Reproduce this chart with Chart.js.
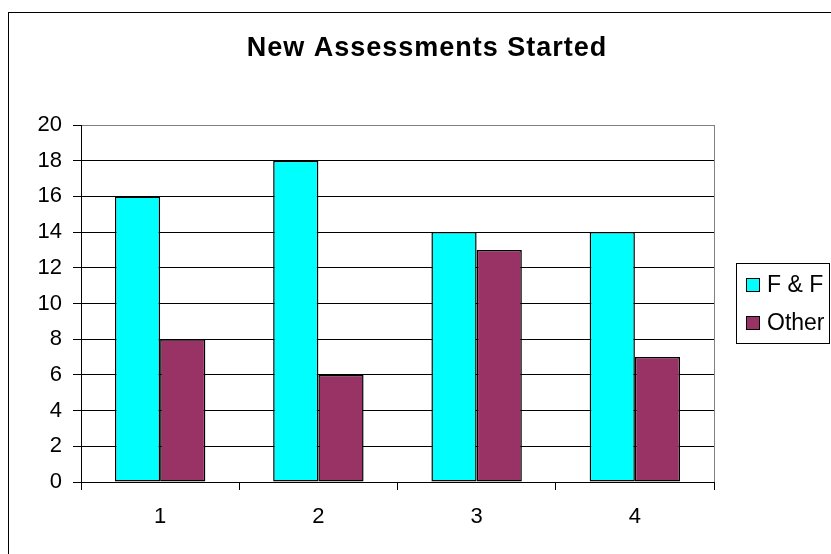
<!DOCTYPE html>
<html>
<head>
<meta charset="utf-8">
<script src="https://cdn.jsdelivr.net/npm/chart.js@4/dist/chart.umd.min.js"></script>
<style>
  html, body { margin: 0; padding: 0; background: #fff; }
  canvas { display: block; }
</style>
</head>
<body>
<canvas id="assessChart" width="831" height="554"></canvas>
<script>
// chart data
const chartTitle = "New Assessments Started";
const categories = ["1", "2", "3", "4"];
const seriesNames = ["F & F", "Other"];
const ffValues = [16, 18, 14, 14];
const otherValues = [8, 6, 13, 7];
const yTicks = [0, 2, 4, 6, 8, 10, 12, 14, 16, 18, 20];

const FONT = "'Liberation Sans', Arial, sans-serif";
const colors = ["#00FFFF", "#993366"];

// outer frame, title, gray plot border and boxed legend (Excel look)
const excelFrame = {
  id: "excelFrame",
  beforeDraw(chart) {
    const c = chart.ctx;
    c.save();
    c.fillStyle = "#fff";
    c.fillRect(0, 0, chart.width, chart.height);
    c.strokeStyle = "#000";
    c.lineWidth = 1;
    c.strokeRect(8.5, 12.5, chart.width + 20, chart.height + 20);
    c.restore();
  },
  beforeDatasetsDraw(chart) {
    const a = chart.chartArea;
    const c = chart.ctx;
    c.save();
    c.strokeStyle = "#808080";
    c.lineWidth = 1;
    c.beginPath();
    c.moveTo(Math.round(a.right) + 0.5, a.top);
    c.lineTo(Math.round(a.right) + 0.5, a.bottom);
    c.stroke();
    c.restore();
  },
  afterDraw(chart) {
    const c = chart.ctx;
    c.save();
    // title
    c.fillStyle = "#000";
    c.font = "bold 27px " + FONT;
    if ("letterSpacing" in c) c.letterSpacing = "1px";
    c.textAlign = "center";
    c.textBaseline = "middle";
    c.fillText(chartTitle, 427, 49);
    if ("letterSpacing" in c) c.letterSpacing = "0px";
    // legend
    c.textAlign = "left";
    c.strokeStyle = "#000";
    c.lineWidth = 1;
    c.strokeRect(736.5, 263.5, 93, 80);
    c.font = "23px " + FONT;
    chart.data.datasets.forEach((ds, i) => {
      const y = 285 + i * 38;
      c.fillStyle = ds.backgroundColor;
      c.fillRect(746, y - 7, 14, 14);
      c.strokeRect(746.5, y - 6.5, 13, 13);
      c.fillStyle = "#000";
      c.fillText(ds.label, 767, y + 1);
    });
    c.restore();
  }
};

new Chart(document.getElementById("assessChart"), {
  type: "bar",
  data: {
    labels: categories,
    datasets: [
      { label: seriesNames[0], data: ffValues, backgroundColor: colors[0] },
      { label: seriesNames[1], data: otherValues, backgroundColor: colors[1] }
    ].map(d => Object.assign(d, {
      borderColor: "#000",
      borderWidth: 1.5,
      borderSkipped: false,
      categoryPercentage: 2 / 3.5,
      barPercentage: 1.0
    }))
  },
  options: {
    responsive: false,
    animation: false,
    devicePixelRatio: 1,
    layout: { padding: { left: 0, right: 117, top: 125, bottom: 0 } },
    plugins: {
      legend: { display: false },
      tooltip: { enabled: false },
      title: { display: false }
    },
    scales: {
      x: {
        offset: true,
        grid: { display: true, drawOnChartArea: false, drawTicks: true, tickLength: 8, color: "#000", offset: true },
        border: { display: true, color: "#000", width: 1 },
        ticks: { color: "#000", font: { family: FONT, size: 22 }, padding: 14 },
        afterFit(scale) { scale.height = 72; }
      },
      y: {
        min: 0,
        max: 20,
        afterBuildTicks(scale) { scale.ticks = yTicks.map(v => ({ value: v })); },
        grid: {
          color: ctx => (ctx.tick && ctx.tick.value === 20 ? "#808080" : "#000"),
          tickColor: "#000",
          tickLength: 8
        },
        border: { display: true, color: "#000", width: 1 },
        ticks: { color: "#000", font: { family: FONT, size: 22 }, padding: 11 },
        afterFit(scale) { scale.width = 81; }
      }
    }
  },
  plugins: [excelFrame]
});
</script>
</body>
</html>
